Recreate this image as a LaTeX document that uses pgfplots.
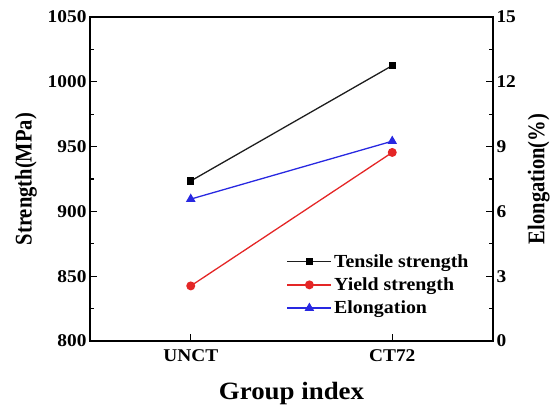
\documentclass[border=0pt]{standalone}
\usepackage{pgfplots}
\pgfplotsset{compat=1.18}
\usepackage{fontspec}
\setmainfont{Liberation Serif}[UprightFont=* Bold, FakeStretch=1.08]
\newfontfamily\vfont{Liberation Serif}[UprightFont=* Bold, FakeStretch=0.86]
\definecolor{myred}{RGB}{228,38,38}
\definecolor{myblue}{RGB}{40,40,225}
\definecolor{myblack}{RGB}{30,30,30}
\begin{document}
\begin{tikzpicture}
\pgfplotsset{
  myax/.style={width=403bp,height=324bp,scale only axis,
    xmin=-0.5,xmax=1.5,
    axis line style={line width=1.6pt},
    every tick/.style={line width=1.2pt, black},
    major tick length=7bp, minor tick length=4bp, tick align=inside,
    /pgf/number format/assume math mode=true,
    /pgf/number format/1000 sep={},
    xticklabel style={font=\fontsize{18}{18}\selectfont, yshift=-5bp},
    yticklabel style={font=\fontsize{18}{18}\selectfont},
    xlabel style={font=\fontsize{25}{25}\selectfont},
    ylabel style={font=\vfont\fontsize{24}{24}\selectfont},
  },
}
\begin{axis}[myax, name=ax, ymin=800,ymax=1050, ytick={800,850,...,1050}, minor y tick num=1,
  ytick pos=left, xtick={0,1}, xticklabels={UNCT,CT72}, xtick pos=bottom,
  xlabel={Group index}, ylabel={Strength(MPa)},
  xlabel style={yshift=-14bp}, ylabel style={yshift=4bp}]
\addplot[myblack, line width=1.3pt, mark=square*, mark size=3bp, mark options={black}] coordinates {(0,923.5)(1,1012.5)};
\addplot[myred, line width=1.3pt, mark=*, mark size=3.8bp] coordinates {(0,842.5)(1,945.5)};
\end{axis}
\begin{axis}[myax, ymin=0,ymax=15, ytick={0,3,...,15}, minor y tick num=1,
  ytick pos=right, yticklabel pos=right, xtick=\empty,
  ylabel={Elongation(\%)}, ylabel style={yshift=-5bp},
  legend style={at={(rel axis cs:0.48,0.28)}, anchor=north west, draw=none, fill=none,
    font=\fontsize{18.5}{18.5}\selectfont, row sep=5bp},
  legend cell align=left,
  legend image code/.code={\draw[mark repeat=2,mark phase=2] plot coordinates {(0cm,0cm)(0.78cm,0cm)(1.56cm,0cm)};}]
\addlegendimage{myblack, line width=1.3pt, mark=square*, mark size=3bp, mark options={black}}
\addlegendentry{Tensile strength}
\addlegendimage{myred, line width=1.3pt, mark=*, mark size=3.8bp}
\addlegendentry{Yield strength}
\addplot[myblue, line width=1.3pt, mark=triangle*, mark size=4.3bp] coordinates {(0,6.57)(1,9.25)};
\addlegendentry{Elongation}
\end{axis}
\pgfresetboundingbox
\path ([shift={(-90bp,-68bp)}]ax.south west) rectangle ([shift={(59bp,17bp)}]ax.north east);
\end{tikzpicture}
\end{document}
